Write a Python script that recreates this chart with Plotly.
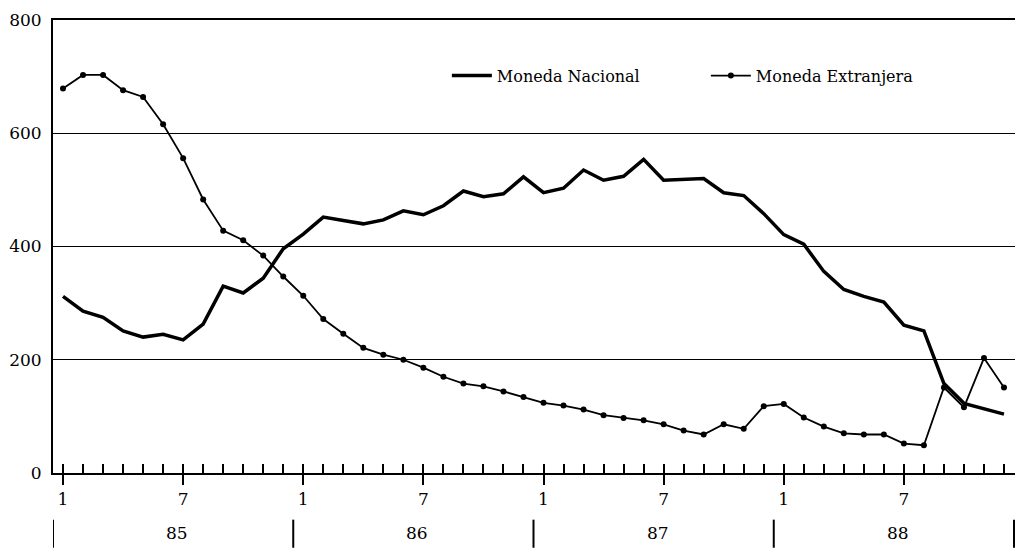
import plotly.graph_objects as go

months = list(range(1, 49))
nacional = [312, 286, 275, 251, 240, 245, 235, 263, 330, 318, 344, 396,
            422, 452, 446, 440, 447, 463, 456, 472, 498, 488, 493, 523,
            495, 503, 535, 517, 524, 554, 517, 519, 520, 495, 490, 458,
            421, 404, 356, 324, 312, 302, 261, 251, 158, 123, 114, 104]
extranjera = [679, 703, 703, 676, 664, 616, 556, 483, 428, 411, 384, 347,
              313, 272, 246, 221, 209, 200, 186, 170, 158, 153, 144, 134,
              124, 119, 112, 102, 97, 93, 86, 75, 68, 86, 78, 118,
              122, 98, 82, 70, 68, 68, 52, 49, 151, 116, 203, 151]
major_ticks = [1, 7, 13, 19, 25, 31, 37, 43]
major_labels = ["1", "7", "1", "7", "1", "7", "1", "7"]
years = ["85", "86", "87", "88"]
year_bounds = [0.5, 12.5, 24.5, 36.5, 48.5]
y_ticks = [0, 200, 400, 600, 800]

FONT = "DejaVu Serif"
xr = [0.5, 48.6]

fig = go.Figure()
fig.add_trace(go.Scatter(x=months, y=nacional, mode="lines", name="Moneda Nacional",
                         line=dict(color="black", width=3.5)))
fig.add_trace(go.Scatter(x=months, y=extranjera, mode="lines+markers", name="Moneda Extranjera",
                         line=dict(color="black", width=1.8),
                         marker=dict(color="black", size=6)))
# invisible trace to attach the minor-tick axis
fig.add_trace(go.Scatter(x=months, y=[None]*len(months), xaxis="x2", showlegend=False,
                         hoverinfo="skip"))

fig.update_layout(
    width=1023, height=549,
    paper_bgcolor="white", plot_bgcolor="white",
    margin=dict(l=45, r=15, t=12, b=84),
    font=dict(family=FONT, color="black", size=16),
    showlegend=True,
    legend=dict(orientation="h", x=0.409, y=0.877, xanchor="left", yanchor="middle",
                bgcolor="rgba(0,0,0,0)", font=dict(family=FONT, size=16),
                entrywidth=204, entrywidthmode="pixels", itemwidth=40),
    xaxis=dict(range=xr, tickmode="array", tickvals=major_ticks, ticktext=major_labels,
               ticks="outside", ticklen=10, tickwidth=1.5, tickcolor="black",
               showline=True, linecolor="black", linewidth=2, mirror=True, automargin=False,
               showgrid=False, zeroline=False, tickfont=dict(size=17)),
    xaxis2=dict(range=xr, overlaying="x", anchor="y", side="bottom", automargin=False,
                tickmode="linear", tick0=1, dtick=1, ticks="inside", ticklen=9,
                tickwidth=1.5, tickcolor="black", showticklabels=False,
                showgrid=False, zeroline=False, showline=False),
    yaxis=dict(range=[0, 800], tickvals=y_ticks, showgrid=True, gridcolor="black",
               gridwidth=1.2, showline=True, linecolor="black", linewidth=2, mirror=True,
               zeroline=False, ticks="", tickfont=dict(size=17), ticklabelstandoff=6,
               ticklabeloverflow="allow", automargin=False),
)

for i, yl in enumerate(years):
    center = (year_bounds[i] + year_bounds[i + 1]) / 2 + 0.2
    fig.add_annotation(x=center, y=-0.132, xref="x", yref="paper", text=yl,
                       showarrow=False, font=dict(family=FONT, size=17), yanchor="middle")
for b in year_bounds:
    fig.add_shape(type="line", xref="x", yref="paper", x0=b, x1=b, y0=-0.103, y1=-0.165,
                  line=dict(color="black", width=2))

fig.write_html("out.html")
